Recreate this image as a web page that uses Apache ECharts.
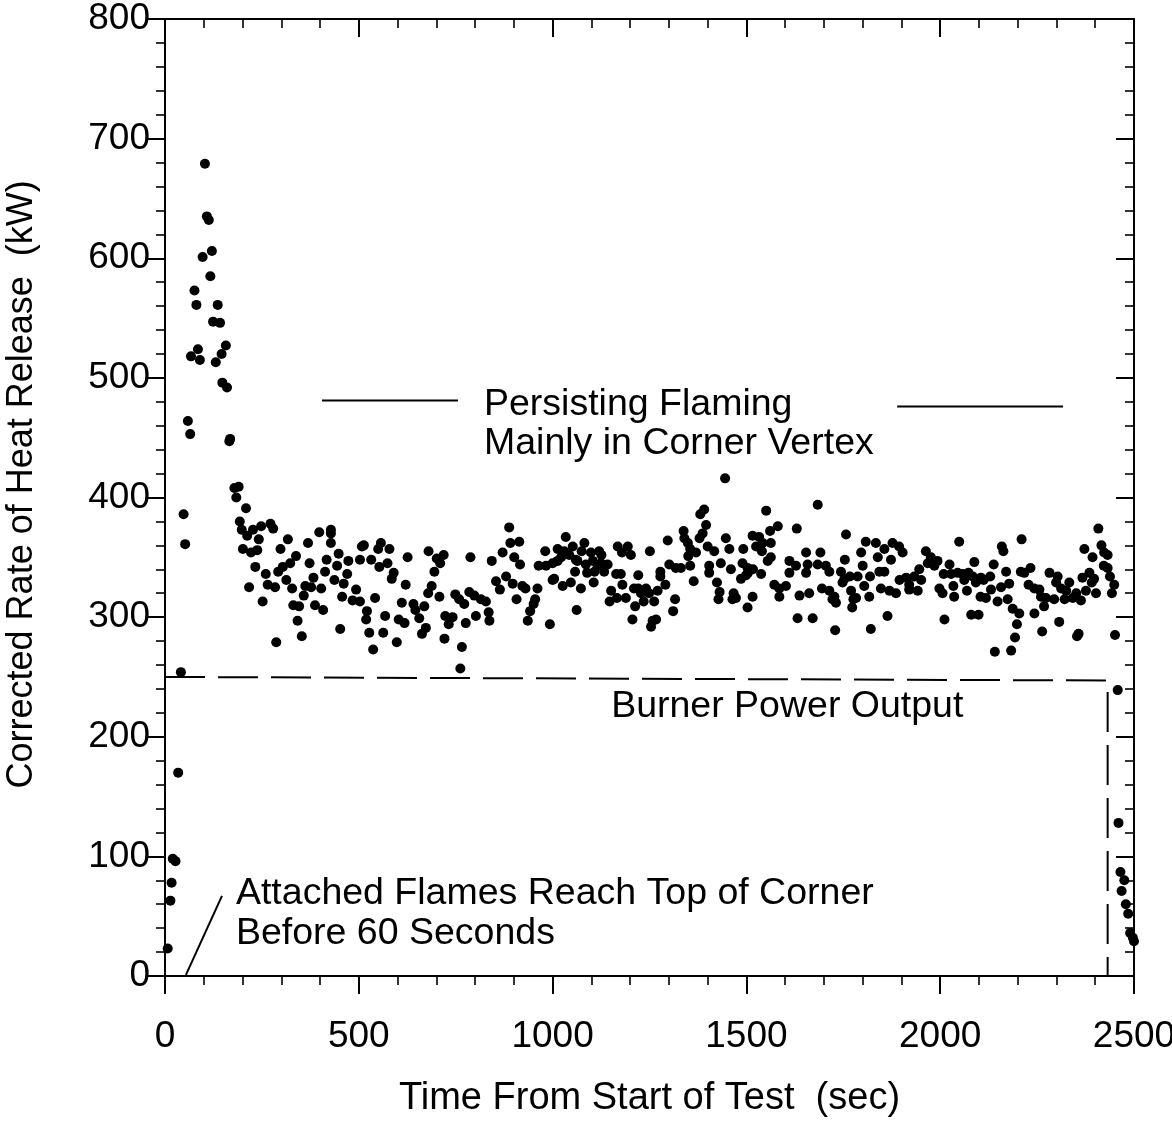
<!DOCTYPE html>
<html>
<head>
<meta charset="utf-8">
<script src="https://cdn.jsdelivr.net/npm/echarts@6/dist/echarts.min.js"></script>
<style>
html,body{margin:0;padding:0;background:#fff;}
#chart{width:1172px;height:1124px;}
</style>
</head>
<body>
<div id="chart"></div>
<script>
// ---- Data ----
const timeSec = [
7,14,17,20,27,34,41,48,52,59,65,67,76,81,85,90,97,103,108,113,117,121,124,131,136,142,146,148,157,160,166,168,179,184,190,193,198,201,209,212,217,222,227,233,238,242,248,252,260,265,272,279,284,287,292,298,304,313,317,323,328,331,338,342,346,353,358,362,369,373,377,383,387,398,403,408,413,417,428,428,428,437,444,448,452,457,461,470,473,484,493,503,503,508,
513,519,521,527,532,537,542,550,553,557,563,568,574,579,585,590,598,603,611,618,621,626,641,646,656,663,669,673,679,680,688,695,701,708,710,719,721,723,732,742,749,759,762,766,772,776,785,788,798,802,815,828,835,837,843,854,864,871,880,888,891,897,901,907,914,916,922,930,936,942,951,955,961,964,981,983,993,1000,
1000,1004,1013,1013,1022,1026,1030,1034,1043,1047,1052,1058,1060,1062,1064,1073,1075,1082,1086,1089,1099,1104,1106,1108,1116,1120,1125,1126,1133,1142,1147,1151,1164,1166,1168,1176,1179,1180,1189,1194,1202,1206,1210,1213,1221,1221,1228,1235,1241,1249,1251,1254,1258,1262,1267,1271,1278,1278,1291,1297,1301,1311,1316,1318,1331,1338,1340,1349,1350,1355,1355,1364,1370,1379,1381,1387,1391,1396,1400,1404,1404,1417,1424,1428,1431,1434,1445,1447,1456,1460,1464,1467,1473,1486,1490,1492,1499,1503,1503,
1504,1516,1516,1517,1525,1533,1538,1540,1542,1551,1555,1561,1563,1563,1572,1581,1585,1585,1602,1611,1611,1628,1630,1632,1637,1654,1654,1658,1662,1671,1684,1684,1691,1695,1705,1714,1714,1722,1727,1729,1731,1744,1748,1753,1754,1757,1767,1770,1773,1776,1783,1787,1796,1800,1804,1808,1817,1819,1821,1834,1839,1843,1847,1856,1856,1864,1869,1873,1877,1886,1894,1895,1903,1912,1920,1920,1933,1942,1946,1951,1963,1968,1976,1985,1993,1998,2006,2011,
2009,2024,2028,2034,2036,2045,2049,2058,2062,2069,2073,2080,2084,2088,2092,2099,2104,2105,2112,2118,2129,2131,2138,2141,2148,2157,2159,2163,2170,2174,2178,2183,2187,2193,2198,2204,2208,2210,2217,2228,2233,2243,2243,2256,2260,2263,2268,2273,2282,2294,2299,2303,2307,2312,2321,2325,2333,2342,2351,2353,2357,2363,2367,2372,2376,2385,2391,2393,2397,2402,2408,2416,2422,2423,2432,2432,2438,2443,2449,2451,
2458,2460,2465,2468,2475,2479,2485,2490,2497,2500
];
const heatReleaseKW = [
23,63,78,98,96,170,254,386,361,464,453,518,573,561,524,515,601,679,635,632,585,606,547,513,561,546,520,496,527,492,447,449,408,400,409,380,373,357,391,368,325,354,373,342,356,365,376,313,336,327,378,374,325,279,338,357,342,331,365,345,324,310,351,297,309,284,318,326,362,345,325,333,310,371,324,306,338,348,373,370,362,331,343,353,290,317,328,336,347,314,323,348,313,359,
360,298,305,287,348,273,316,357,342,362,287,301,345,357,332,337,279,298,312,295,327,350,311,306,299,286,309,291,320,355,326,338,349,317,345,352,282,301,294,300,319,315,257,275,311,295,321,350,318,301,315,313,304,297,347,330,323,354,334,375,362,328,350,315,363,344,326,324,297,305,311,315,324,343,355,343,294,331,
345,332,357,347,350,326,355,367,352,329,359,338,348,306,347,324,355,362,344,337,354,347,329,338,343,355,345,352,338,344,313,322,336,316,359,336,354,327,316,359,352,298,324,309,335,324,320,313,324,320,355,292,297,313,298,322,338,334,327,364,344,305,315,341,341,372,366,362,351,357,343,330,354,366,386,370,390,377,359,343,337,355,329,315,321,345,416,366,357,340,315,320,316,332,345,357,335,341,308,
337,368,317,340,359,367,336,355,362,389,347,372,362,350,327,376,324,317,326,347,337,343,374,299,318,354,337,344,320,299,394,344,354,324,343,338,322,315,317,289,312,338,329,332,348,369,334,322,308,315,316,334,354,343,326,363,317,334,290,362,350,338,324,357,338,301,322,348,362,320,359,331,354,333,327,323,334,322,340,331,355,345,350,343,347,324,320,298,
336,344,336,326,317,337,363,336,331,322,337,302,334,346,329,302,317,333,331,316,334,323,344,271,313,325,359,355,338,315,328,272,307,283,294,303,338,365,337,327,341,324,303,323,317,288,309,316,337,315,329,334,296,324,315,322,329,316,320,284,286,314,333,357,322,337,329,350,332,320,374,360,343,354,352,341,334,320,327,285,
239,128,87,71,80,60,52,36,32,29
];
// Burner power output (dashed outline)
const burnerTime = [0, 2432, 2432];
const burnerKW = [250, 247, 0];
// Annotation leader lines
const persistLeftT = [405, 756];   const persistLeftKW = [481, 481];
const persistRightT = [1889, 2317]; const persistRightKW = [476, 476];
const attachedT = [54, 147];        const attachedKW = [1, 67];
// Annotation texts: [text, time, kW] (left edge, vertical middle)
const notes = [
  ['Persisting Flaming', 823, 478],
  ['Mainly in Corner Vertex', 823, 445],
  ['Burner Power Output', 1151, 225],
  ['Attached Flames Reach Top of Corner', 183, 69],
  ['Before 60 Seconds', 183, 35]
];
// Axis ticks
const xTicks = {min: 0, max: 2500, step: 500};
const yTicks = {min: 0, max: 800, step: 100};
const xTitle = 'Time From Start of Test  (sec)';
const yTitle = 'Corrected Rate of Heat Release  (kW)';

const FONT = 'Liberation Sans, Arial, Helvetica, sans-serif';
const pairs = (a, b) => a.map((v, i) => [v, b[i]]);

const chart = echarts.init(document.getElementById('chart'), null, {renderer: 'canvas'});

function axisCommon(isX, primary) {
  const t = isX ? xTicks : yTicks;
  return {
    type: 'value',
    min: t.min, max: t.max, interval: t.step,
    axisLine: {show: true, onZero: false, lineStyle: {color: '#000', width: 2}},
    axisTick: {show: true, inside: !primary, length: 18, lineStyle: {color: '#000', width: 2}},
    minorTick: {show: true, splitNumber: 5, length: 9, lineStyle: {color: '#000', width: 1.6}},
    splitLine: {show: false},
    minorSplitLine: {show: false},
    axisLabel: primary ? {show: true, color: '#000', fontSize: 37, fontFamily: FONT,
      margin: isX ? 42 : 15, formatter: v => String(v)} : {show: false}
  };
}

const lineSeries = (data, dashed) => ({
  type: 'line', data: data, symbol: 'none', silent: true, z: 2,
  lineStyle: {color: '#000', width: 2, type: dashed ? [40, 13] : 'solid'},
  animation: false
});

chart.setOption({
  animation: false,
  backgroundColor: '#fff',
  grid: {left: 165, right: 38, top: 19, bottom: 148, containLabel: false, outerBoundsMode: 'none'},
  xAxis: [
    Object.assign(axisCommon(true, true), {position: 'bottom', name: xTitle, nameLocation: 'middle', nameGap: 104,
      nameTextStyle: {color: '#000', fontSize: 38, fontFamily: FONT}}),
    Object.assign(axisCommon(true, false), {position: 'top'})
  ],
  yAxis: [
    Object.assign(axisCommon(false, true), {position: 'left'}),
    Object.assign(axisCommon(false, false), {position: 'right'})
  ],
  series: [
    lineSeries(pairs(burnerTime, burnerKW), true),
    lineSeries(pairs(persistLeftT, persistLeftKW), false),
    lineSeries(pairs(persistRightT, persistRightKW), false),
    lineSeries(pairs(attachedT, attachedKW), false),
    {
      type: 'scatter', data: pairs(timeSec, heatReleaseKW), symbol: 'circle', symbolSize: 10, z: 5,
      itemStyle: {color: '#000', opacity: 1}, emphasis: {disabled: true}, animation: false
    }
  ]
});

const g = notes.map(n => {
  const p = chart.convertToPixel({xAxisIndex: 0, yAxisIndex: 0}, [n[1], n[2]]);
  return {type: 'text', x: p[0], y: p[1], silent: true, z: 10,
    style: {text: n[0], fill: '#000', font: '37.5px ' + FONT, textAlign: 'left', textVerticalAlign: 'middle'}};
});
// y-axis title, centred a little above the plot middle as in the reference
const yMid = chart.convertToPixel({yAxisIndex: 0}, 411);
g.push({type: 'text', x: 22, y: yMid, rotation: Math.PI / 2, silent: true, z: 10,
  style: {text: yTitle, fill: '#000', font: '36px ' + FONT, textAlign: 'center', textVerticalAlign: 'middle'}});
chart.setOption({graphic: g});
</script>
</body>
</html>
